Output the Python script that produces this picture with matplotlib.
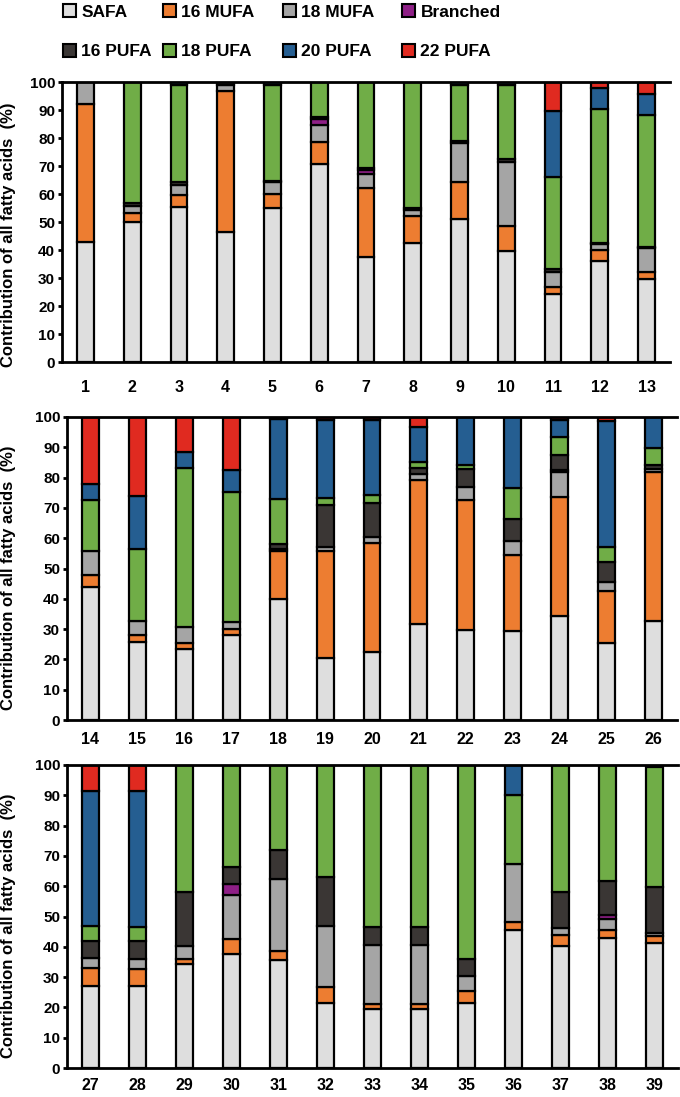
import matplotlib

matplotlib.use("Agg")
import matplotlib.pyplot as plt
from matplotlib.patches import Patch

plt.rcParams["font.family"] = ["Liberation Sans", "DejaVu Sans"]
plt.rcParams["font.weight"] = "bold"

# samples 1..39, percent of all fatty acids
samples = list(range(1, 40))

safa = [43.0, 50.1, 55.3, 46.5, 54.9, 70.8, 37.6, 42.4, 51.0, 39.6, 24.3, 36.2, 29.6,
        44.0, 25.6, 23.5, 28.2, 40.0, 20.6, 22.4, 31.6, 29.8, 29.4, 34.3, 25.4, 32.7,
        27.2, 27.0, 34.4, 37.5, 35.5, 21.3, 19.4, 19.6, 21.6, 45.4, 40.4, 42.9, 41.2]
mufa16 = [49.1, 3.2, 4.4, 50.2, 5.0, 7.6, 24.4, 9.6, 13.2, 9.1, 2.5, 3.8, 2.6,
          3.7, 2.3, 1.9, 1.7, 15.7, 35.1, 36.0, 47.7, 42.8, 25.1, 39.4, 17.2, 49.0,
          5.7, 5.8, 1.7, 5.1, 3.0, 5.3, 1.6, 1.5, 3.8, 2.7, 3.6, 2.8, 2.5]
mufa18 = [7.9, 2.4, 3.5, 2.3, 4.3, 6.1, 5.3, 2.3, 14.1, 22.7, 5.5, 2.1, 8.4,
          8.2, 4.9, 5.2, 2.5, 0.8, 1.5, 1.9, 1.9, 4.4, 4.5, 8.2, 3.1, 1.0,
          3.4, 3.3, 4.3, 14.4, 23.8, 20.2, 19.6, 19.5, 5.1, 19.3, 2.2, 3.5, 0.9]
branched = [0, 0, 0, 0, 0, 2.4, 1.4, 0, 0, 0, 0, 0, 0,
            0, 0, 0, 0, 0, 0, 0, 0, 0, 0, 0.7, 0, 0,
            0, 0, 0, 3.7, 0, 0, 0, 0, 0, 0, 0, 1.3, 0]
pufa16 = [0, 1.0, 1.0, 1.0, 0.5, 0.6, 0.5, 0.6, 0.5, 1.2, 0.8, 0.5, 0.5,
          0, 0, 0, 0, 1.6, 13.6, 11.4, 2.1, 5.8, 7.5, 4.7, 6.5, 1.4,
          5.5, 5.7, 17.7, 5.6, 9.6, 16.3, 5.9, 5.8, 5.4, 0, 11.9, 11.3, 15.1]
pufa18 = [0, 43.3, 34.8, 0, 34.3, 12.5, 30.8, 45.1, 20.2, 26.4, 33.1, 47.6, 47.0,
          16.6, 23.6, 52.7, 42.9, 14.7, 2.6, 2.7, 2.0, 1.3, 10.0, 6.0, 4.9, 5.6,
          5.0, 4.8, 41.9, 33.7, 28.1, 36.9, 53.5, 53.6, 64.1, 22.6, 41.9, 38.1, 39.8]
pufa20 = [0, 0, 1.0, 0, 1.0, 0, 0, 0, 1.0, 1.0, 23.3, 7.7, 7.6,
          5.3, 17.6, 5.1, 7.3, 26.6, 25.5, 24.5, 11.4, 15.9, 23.5, 5.8, 41.6, 10.3,
          44.6, 44.8, 0, 0, 0, 0, 0, 0, 0, 10.0, 0, 0, 0]
pufa22 = [0, 0, 0, 0, 0, 0, 0, 0, 0, 0, 10.5, 2.1, 4.3,
          22.2, 26.0, 11.6, 17.4, 0.6, 1.1, 1.1, 3.3, 0, 0, 0.9, 1.3, 0,
          8.6, 8.6, 0, 0, 0, 0, 0, 0, 0, 0, 0, 0, 0]

series_names = ["SAFA", "16 MUFA", "18 MUFA", "Branched", "16 PUFA", "18 PUFA", "20 PUFA", "22 PUFA"]
series_data = [safa, mufa16, mufa18, branched, pufa16, pufa18, pufa20, pufa22]
colors = ["#DEDEDE", "#ED7D31", "#A5A5A5", "#8E1F86", "#3A3634", "#70AD47", "#255E91", "#E02A20"]

W, H = 680, 1097
fig = plt.figure(figsize=(W / 100, H / 100), dpi=100)

# panel boxes in pixels: left, right, top, bottom
boxes = [(62, 670, 82, 362), (67, 677, 417, 720), (67, 678, 765, 1068)]
label_y = [0.455, 0.47, 0.47]
xpads = [13, 9, 7]

for p, (l, r, t, b) in enumerate(boxes):
    ax = fig.add_axes([l / W, (H - b) / H, (r - l) / W, (b - t) / H])
    idx = list(range(p * 13, p * 13 + 13))
    xs = [samples[i] for i in idx]
    bottoms = [0.0] * 13
    for vals, col in zip(series_data, colors):
        for k, i in enumerate(idx):
            v = vals[i]
            if v > 0:
                ax.bar(xs[k], v, bottom=bottoms[k], width=0.36, color=col,
                       edgecolor="black", linewidth=1.6, zorder=2)
            bottoms[k] += v

    ax.set_xlim(xs[0] - 0.5, xs[-1] + 0.5)
    ax.set_ylim(0, 100)
    ax.set_xticks(xs)
    ax.set_xticklabels([str(x) for x in xs], fontsize=11.5, fontweight="bold")
    ax.set_yticks(range(0, 101, 10))
    ax.set_yticklabels([str(v) for v in range(0, 101, 10)], fontsize=11, fontweight="bold")
    ax.tick_params(axis="x", length=0, pad=xpads[p])
    ax.tick_params(axis="y", length=3, width=2, direction="out", pad=2)
    for s in ["left", "bottom", "top"]:
        ax.spines[s].set_linewidth(2)
        ax.spines[s].set_color("black")
        ax.spines[s].set_zorder(3)
    ax.spines["right"].set_visible(False)
    ax.set_ylabel("Contribution of all fatty acids  (%)", fontsize=12, fontweight="bold")
    ax.yaxis.set_label_coords((16 - l) / (r - l), label_y[p])

# legend: four columns of two entries, placed one by one
handles = [Patch(facecolor=c, edgecolor="black", linewidth=1.5) for c in colors]
col_x = [58, 158, 278, 397]
for c, x0 in enumerate(col_x):
    pair = [c, c + 4]
    fig.legend([handles[i] for i in pair], [series_names[i] for i in pair],
               loc="upper left", bbox_to_anchor=(x0 / W, 1 + 1 / H),
               frameon=False, prop={"weight": "bold", "size": 12.5},
               handlelength=0.75, handleheight=0.75, handletextpad=0.3,
               labelspacing=1.4, borderpad=0.3, borderaxespad=0)

fig.savefig("out.png", dpi=100)
